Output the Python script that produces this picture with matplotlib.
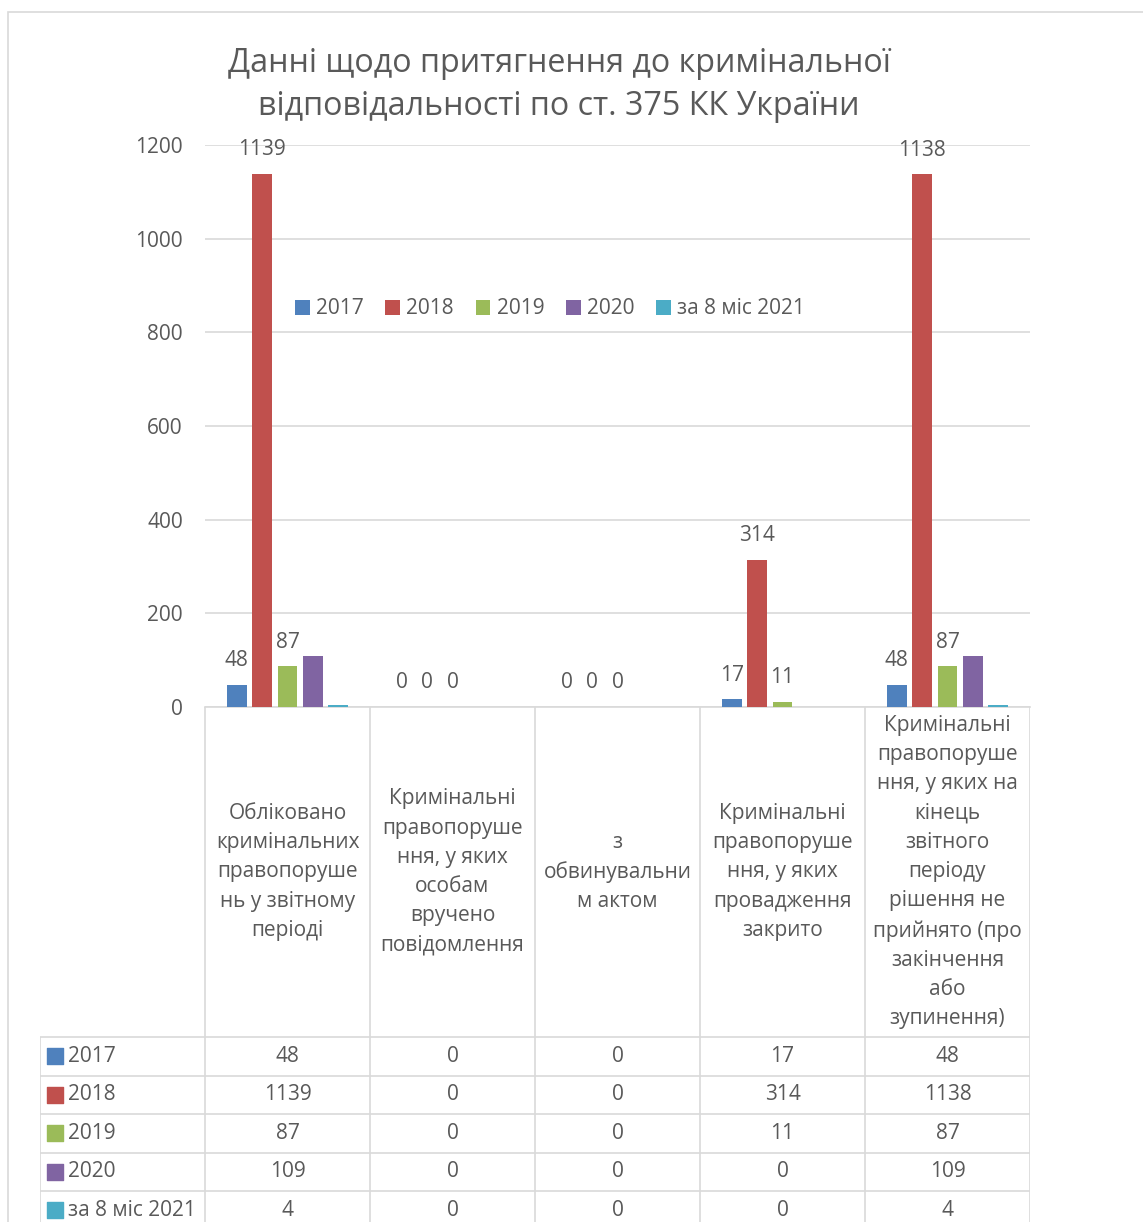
"""Bar chart with data table: criminal liability under art. 375 CC of Ukraine."""
import matplotlib

matplotlib.use("Agg")

import matplotlib.pyplot as plt
from matplotlib.patches import Rectangle

# ---- data ----
series_names = ["2017", "2018", "2019", "2020", "за 8 міс 2021"]
categories = [
    "Обліковано\nкримінальних\nправопоруше\nнь у звітному\nперіоді",
    "Кримінальні\nправопоруше\nння, у яких\nособам\nвручено\nповідомлення",
    "з\nобвинувальни\nм актом",
    "Кримінальні\nправопоруше\nння, у яких\nпровадження\nзакрито",
    "Кримінальні\nправопоруше\nння, у яких на\nкінець\nзвітного\nперіоду\nрішення не\nприйнято (про\nзакінчення\nабо\nзупинення)",
]
values_2017 = [48, 0, 0, 17, 48]
values_2018 = [1139, 0, 0, 314, 1138]
values_2019 = [87, 0, 0, 11, 87]
values_2020 = [109, 0, 0, 0, 109]
values_2021 = [4, 0, 0, 0, 4]
all_values = [values_2017, values_2018, values_2019, values_2020, values_2021]
labelled_series = [0, 1, 2]  # only these series carry data labels on the chart
y_ticks = [0, 200, 400, 600, 800, 1000, 1200]

colors = ["#4F81BD", "#C0504D", "#9BBB59", "#8064A2", "#4BACC6"]
TEXT = "#595959"
GRID = "#D9D9D9"
FONT = "Open Sans"
FS = 15

W, H = 1143, 1222
plt.rcParams["font.family"] = [FONT, "DejaVu Sans"]


def fx(px):
    return px / W


def fy(py):
    return 1 - py / H


fig = plt.figure(figsize=(W / 100, H / 100), dpi=100)
fig.patches.append(Rectangle((fx(8), fy(1240)), fx(1160), fy(12) - fy(1240),
                             transform=fig.transFigure, fill=False,
                             edgecolor=GRID, linewidth=1.2))

# ---- bar chart ----
left, right, top, bottom = 205, 1030, 145, 707
ax = fig.add_axes([fx(left), fy(bottom), fx(right - left), fy(top) - fy(bottom)])
ax.set_xlim(-0.5, len(categories) - 0.5)
ax.set_ylim(0, 1200)
step = 0.1533
width = 0.121
for i, (name, vals) in enumerate(zip(series_names, all_values)):
    xs = [c + (i - 2) * step for c in range(len(categories))]
    ax.bar(xs, vals, width=width, color=colors[i], label=name, zorder=3)
    if i in labelled_series:
        for x, v in zip(xs, vals):
            ax.annotate(str(v), (x, v), xytext=(0, 17.3), textcoords="offset points",
                        ha="center", va="center", fontsize=FS, color=TEXT)

ax.set_yticks(y_ticks)
ax.set_xticks([])
ax.grid(True, axis="y", color=GRID, linewidth=1.2, zorder=0)
for side in ["left", "right", "top"]:
    ax.spines[side].set_visible(False)
ax.spines["bottom"].set_color(GRID)
ax.spines["bottom"].set_linewidth(1.2)
ax.tick_params(axis="y", length=0, pad=16, labelsize=FS, labelcolor=TEXT)

leg = ax.legend(loc="center", bbox_to_anchor=(fx(550), fy(309)),
                bbox_transform=fig.transFigure, ncol=5, frameon=False,
                handlelength=0.7, handleheight=0.7, handletextpad=0.3,
                columnspacing=1.05, fontsize=FS)
for t in leg.get_texts():
    t.set_color(TEXT)

fig.text(fx(559), fy(85), "Данні щодо притягнення до кримінальної\nвідповідальності по ст. 375 КК України",
         ha="center", va="center", fontsize=23.2, color=TEXT, linespacing=1.42)

# ---- data table below the axis ----
header_h = 330 / 38.5
n_rows = len(series_names)
tab_left = 40
tax = fig.add_axes([fx(tab_left), fy(707 + 38.5 * (header_h + n_rows)),
                    fx(right - tab_left), (38.5 * (header_h + n_rows)) / H])
tax.set_xlim(-1.5, len(categories) - 0.5)
tax.set_ylim(header_h + n_rows, 0)
tax.axis("off")

col_edges = [c - 0.5 for c in range(len(categories) + 1)]
tax.vlines(col_edges, 0, header_h + n_rows, color=GRID, linewidth=1.2)
tax.vlines([-1.5], header_h, header_h + n_rows, color=GRID, linewidth=1.2)
tax.hlines([header_h + r for r in range(n_rows + 1)], -1.5, len(categories) - 0.5,
           color=GRID, linewidth=1.2)

for c, label in enumerate(categories):
    tax.text(c, header_h / 2, label, ha="center", va="center", fontsize=FS,
             color=TEXT, linespacing=1.52)

for r, (name, vals) in enumerate(zip(series_names, all_values)):
    yc = header_h + r + 0.5
    tax.scatter([-1.41], [yc], marker="s", s=120, color=colors[r], clip_on=False)
    tax.text(-1.33, yc, name, ha="left", va="center", fontsize=FS, color=TEXT)
    for c, v in enumerate(vals):
        tax.text(c, yc, str(v), ha="center", va="center", fontsize=FS, color=TEXT)

fig.savefig("out.png", dpi=100)
